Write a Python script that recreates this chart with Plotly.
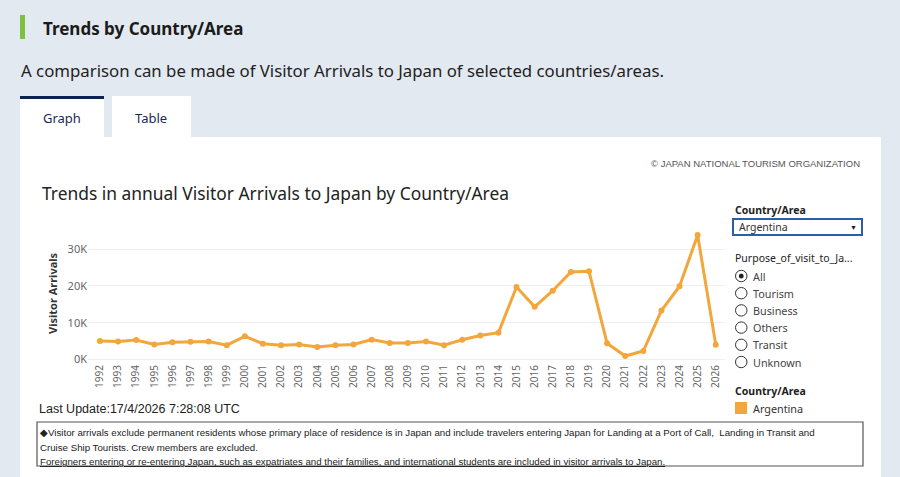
import plotly.graph_objects as go

years = list(range(1992, 2027))
arrivals = [5000, 4900, 5300, 4100, 4700, 4800, 4900, 3900, 6300, 4300,
            3900, 4100, 3400, 3900, 4100, 5400, 4500, 4500, 4900, 3900,
            5350, 6500, 7300, 19700, 14300, 18700, 23800, 24000, 4400, 950,
            2300, 13300, 19900, 33800, 4000]
y_ticks = [0, 10000, 20000, 30000]
y_tick_text = ["0K", "10K", "20K", "30K"]
purposes = ["All", "Tourism", "Business", "Others", "Transit", "Unknown"]
country = "Argentina"

W, H = 900, 477
L, R, T, B = 88, 175, 230, 115
PW, PH = W - L - R, H - T - B
ORANGE = "#f3a63c"
BG = "#e2e9f1"
FONT = "Noto Sans"
NARROW = "Liberation Sans"


def px(x):
    return (x - L) / PW


def py(y):
    return (H - B - y) / PH


fig = go.Figure()
fig.add_trace(go.Scatter(
    x=years, y=arrivals, mode="lines+markers",
    line=dict(color=ORANGE, width=3),
    marker=dict(color=ORANGE, size=6),
    name=country, showlegend=False,
))

shapes = []
ann = []


def rect(x0, y0, x1, y1, fill, line_color=None, lw=0, layer="below"):
    shapes.append(dict(type="rect", xref="paper", yref="paper",
                       x0=px(x0), x1=px(x1), y0=py(y1), y1=py(y0),
                       fillcolor=fill, layer=layer,
                       line=dict(color=line_color or fill, width=lw)))


def text(x, y, s, size, color="#222", anchor="left", family=FONT, bold=False, angle=0):
    if bold:
        s = "<b>" + s + "</b>"
    ann.append(dict(xref="paper", yref="paper", x=px(x), y=py(y), text=s,
                    showarrow=False, xanchor=anchor, yanchor="middle",
                    textangle=angle,
                    font=dict(size=size, color=color, family=family)))


# page elements
rect(20, 15, 25, 39, "#7dc142")
text(41, 28, "Trends by Country/Area", 17, "#1b1b1b", bold=True)
text(19, 70, "A comparison can be made of Visitor Arrivals to Japan of selected countries/areas.", 16.8, "#222")
rect(20, 96, 104, 140, "#ffffff")
rect(20, 96, 104, 99, "#0b2352")
rect(112, 96, 191, 137, "#ffffff")
text(62, 118, "Graph", 13, "#1a2a55", anchor="center")
text(151, 118, "Table", 13, "#1a2a55", anchor="center")
rect(20, 137, 881, 478, "#ffffff")

text(862, 163, "© JAPAN NATIONAL TOURISM ORGANIZATION", 9.5, "#555", anchor="right", family="Liberation Sans")
text(40, 193, "Trends in annual Visitor Arrivals to Japan by Country/Area", 17.4, "#222")
text(52, 293, "Visitor Arrivals", 11, "#333", anchor="center", bold=True, angle=-90)

# right controls
text(733, 210, "Country/Area", 10.5, "#222", bold=True)
rect(733, 219, 862, 235, "#ffffff", "#2b5ea6", 2, layer="above")
text(737, 227, country, 10.5, "#333")
text(853, 227, "▼", 7, "#222", anchor="center")
text(733, 258, "Purpose_of_visit_to_Ja...", 10.5, "#222")
for i, p in enumerate(purposes):
    yy = 276 + i * 17.2
    shapes.append(dict(type="circle", xref="paper", yref="paper",
                       x0=px(735.5), x1=px(747), y0=py(yy + 5.7), y1=py(yy - 5.7),
                       line=dict(color="#333", width=1), fillcolor="#ffffff", layer="above"))
    if i == 0:
        shapes.append(dict(type="circle", xref="paper", yref="paper",
                           x0=px(738.8), x1=px(743.7), y0=py(yy + 2.5), y1=py(yy - 2.5),
                           line=dict(color="#222", width=0), fillcolor="#222", layer="above"))
    text(751, yy, p, 10.8, "#444")

text(733, 391, "Country/Area", 10.5, "#222", bold=True)
rect(735, 402, 747, 414, ORANGE, layer="above")
text(751, 408, country, 10.8, "#333")

# footer
text(37, 409, "Last Update:17/4/2026 7:28:08 UTC", 12.5, "#222", family=NARROW)
rect(37, 422, 863, 466, "rgba(0,0,0,0)", "#555", 1.2, layer="above")
text(38, 432, "◆Visitor arrivals exclude permanent residents whose primary place of residence is in Japan and include travelers entering Japan for Landing at a Port of Call,  Landing in Transit and", 9.7, "#222", family=NARROW)
text(38, 447, "Cruise Ship Tourists. Crew members are excluded.", 9.7, "#222", family=NARROW)
text(38, 461, "<u>Foreigners entering or re-entering Japan, such as expatriates and their families, and international students are included in visitor arrivals to Japan.</u>", 9.7, "#222", family=NARROW)
text(38, 480.5, "◆For the years when the number of inbound foreign visitors for all countries/regions was not calculated, the total for countries/regions other than those for which the values are", 9.7, "#555", family=NARROW)

fig.update_layout(
    width=W, height=H,
    margin=dict(l=L, r=R, t=T, b=B),
    paper_bgcolor=BG, plot_bgcolor="#ffffff",
    shapes=shapes, annotations=ann,
    xaxis=dict(range=[1991.34, 2026.51], tickmode="array", tickvals=years,
               ticktext=[str(y) for y in years], tickangle=-90,
               tickfont=dict(size=10, color="#666", family=FONT),
               showgrid=False, zeroline=False, showline=False, ticks=""),
    yaxis=dict(range=[-680, 35190], tickvals=y_ticks, ticktext=y_tick_text,
               tickfont=dict(size=11, color="#666", family=FONT),
               showgrid=True, gridcolor="#efefef", gridwidth=1,
               zeroline=False, showline=False, ticks=""),
)

fig.write_html("out.html")
